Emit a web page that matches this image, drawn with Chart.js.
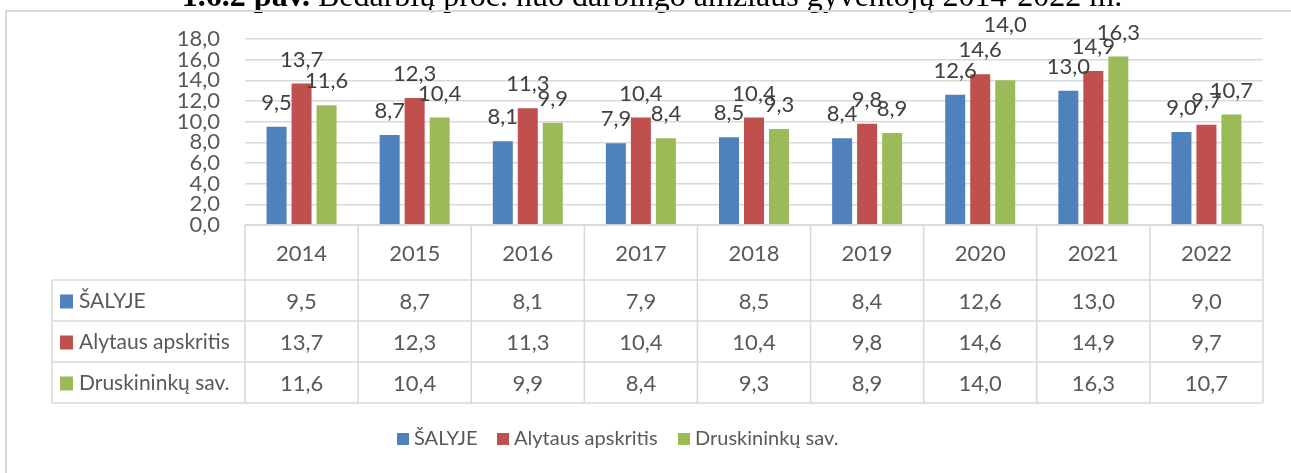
<!DOCTYPE html>
<html>
<head>
<meta charset="utf-8">
<script src="https://cdn.jsdelivr.net/npm/chart.js@4/dist/chart.umd.min.js"></script>
<style>
  body { margin: 0; background: #fff; }
  canvas { display: block; }
</style>
</head>
<body>
<canvas id="unempChart" width="1291" height="473"></canvas>
<script>
// data
var years = ["2014", "2015", "2016", "2017", "2018", "2019", "2020", "2021", "2022"];
var seriesNames = ["ŠALYJE", "Alytaus apskritis", "Druskininkų sav."];
var salyje = [9.5, 8.7, 8.1, 7.9, 8.5, 8.4, 12.6, 13.0, 9.0];
var alytaus = [13.7, 12.3, 11.3, 10.4, 10.4, 9.8, 14.6, 14.9, 9.7];
var druskininku = [11.6, 10.4, 9.9, 8.4, 9.3, 8.9, 14.0, 16.3, 10.7];
var colors = ["#4f81bd", "#c0504d", "#9bbb59"];

var fontFam = "Lato, 'Open Sans', sans-serif";
var txtColor = "#595959";
var lineColor = "#d9d9d9";

function fmt(v) {
  return v.toFixed(1).replace(".", ",");
}

// title (cut at top) + outer frame
var framePlugin = {
  id: "frame",
  beforeDraw: function(chart) {
    var ctx = chart.ctx;
    ctx.save();
    ctx.fillStyle = "#000";
    ctx.textBaseline = "alphabetic";
    var boldPart = "1.6.2 pav. ";
    var restPart = "Bedarbių proc. nuo darbingo amžiaus gyventojų 2014-2022 m.";
    var tf = "32px 'Liberation Serif', serif";
    ctx.font = "bold " + tf;
    var w1 = ctx.measureText(boldPart).width;
    ctx.font = tf;
    var w2 = ctx.measureText(restPart).width;
    var x0 = 652 - (w1 + w2) / 2;
    ctx.font = "bold " + tf;
    ctx.fillText(boldPart, x0, 6);
    ctx.font = tf;
    ctx.fillText(restPart, x0 + w1, 6);

    ctx.strokeStyle = lineColor;
    ctx.lineWidth = 2;
    ctx.beginPath();
    ctx.moveTo(6, 480);
    ctx.lineTo(6, 11);
    ctx.lineTo(1300, 11);
    ctx.stroke();
    ctx.restore();
  }
};

// value labels above bars (pushed up when too close to the neighbour, like Excel)
var valueLabels = {
  id: "valueLabels",
  afterDatasetsDraw: function(chart) {
    var ctx = chart.ctx;
    ctx.save();
    ctx.font = "22px " + fontFam;
    ctx.fillStyle = "#404040";
    ctx.textAlign = "center";
    ctx.textBaseline = "middle";
    var prevY = [];
    chart.data.datasets.forEach(function(ds, i) {
      chart.getDatasetMeta(i).data.forEach(function(bar, j) {
        var ly = bar.y - 24;
        if (i > 0 && Math.abs(ly - prevY[j]) < 7) ly -= 31;
        ctx.fillText(fmt(ds.data[j]), bar.x, ly);
        prevY[j] = ly;
      });
    });
    ctx.restore();
  }
};

// data table under the plot + legend
var dataTable = {
  id: "dataTable",
  afterDraw: function(chart) {
    var ctx = chart.ctx;
    var xs = chart.scales.x;
    var area = chart.chartArea;
    var top = area.bottom;
    var rows = [top, 280, 321, 362, 403];
    var tableLeft = 52;
    var n = years.length;
    var step = (area.right - area.left) / n;

    ctx.save();
    ctx.strokeStyle = lineColor;
    ctx.lineWidth = 1.5;
    ctx.beginPath();
    // horizontal lines
    ctx.moveTo(area.left, rows[0]); ctx.lineTo(area.right, rows[0]);
    for (var r = 1; r < rows.length; r++) {
      ctx.moveTo(tableLeft, rows[r]); ctx.lineTo(area.right, rows[r]);
    }
    // vertical lines
    ctx.moveTo(tableLeft, rows[1]); ctx.lineTo(tableLeft, rows[4]);
    for (var c = 0; c <= n; c++) {
      var vx = area.left + c * step;
      ctx.moveTo(vx, rows[0]); ctx.lineTo(vx, rows[4]);
    }
    ctx.stroke();

    ctx.fillStyle = txtColor;
    ctx.font = "22px " + fontFam;
    ctx.textAlign = "center";
    ctx.textBaseline = "middle";
    years.forEach(function(y, i) {
      ctx.fillText(y, xs.getPixelForValue(i), (rows[0] + rows[1]) / 2 + 1);
    });
    chart.data.datasets.forEach(function(ds, d) {
      var cy = (rows[d + 1] + rows[d + 2]) / 2 + 1;
      ds.data.forEach(function(v, i) {
        ctx.fillText(fmt(v), xs.getPixelForValue(i), cy);
      });
      ctx.fillStyle = colors[d];
      ctx.fillRect(60, cy - 7, 13, 14);
      ctx.fillStyle = txtColor;
      ctx.textAlign = "left";
      ctx.font = "21px " + fontFam;
      ctx.fillText(ds.label, 79, cy);
      ctx.font = "22px " + fontFam;
      ctx.textAlign = "center";
    });

    // legend
    var legX = [397, 497, 678];
    ctx.font = "20px " + fontFam;
    ctx.textAlign = "left";
    chart.data.datasets.forEach(function(ds, d) {
      ctx.fillStyle = colors[d];
      ctx.fillRect(legX[d], 433, 12, 12);
      ctx.fillStyle = txtColor;
      ctx.fillText(ds.label, legX[d] + 17, 439);
    });
    ctx.restore();
  }
};

new Chart("unempChart", {
  type: "bar",
  data: {
    labels: years,
    datasets: [
      { label: seriesNames[0], data: salyje, backgroundColor: colors[0] },
      { label: seriesNames[1], data: alytaus, backgroundColor: colors[1] },
      { label: seriesNames[2], data: druskininku, backgroundColor: colors[2] }
    ]
  },
  options: {
    responsive: false,
    animation: false,
    datasets: {
      bar: { categoryPercentage: 0.663, barPercentage: 0.8 }
    },
    layout: { padding: { top: 39, bottom: 240, left: 0, right: 28 } },
    plugins: {
      legend: { display: false },
      tooltip: { enabled: false }
    },
    scales: {
      x: {
        grid: { display: false },
        border: { display: false },
        ticks: { display: false }
      },
      y: {
        min: 0,
        max: 18,
        afterFit: function(scale) { scale.width = 245; },
        border: { display: false },
        grid: { color: lineColor, lineWidth: 1.5, drawTicks: false },
        ticks: {
          stepSize: 2,
          autoSkip: false,
          padding: 25,
          color: txtColor,
          font: { family: fontFam, size: 22 },
          callback: function(v) { return fmt(v); }
        }
      }
    }
  },
  plugins: [framePlugin, valueLabels, dataTable]
});
</script>
</body>
</html>
